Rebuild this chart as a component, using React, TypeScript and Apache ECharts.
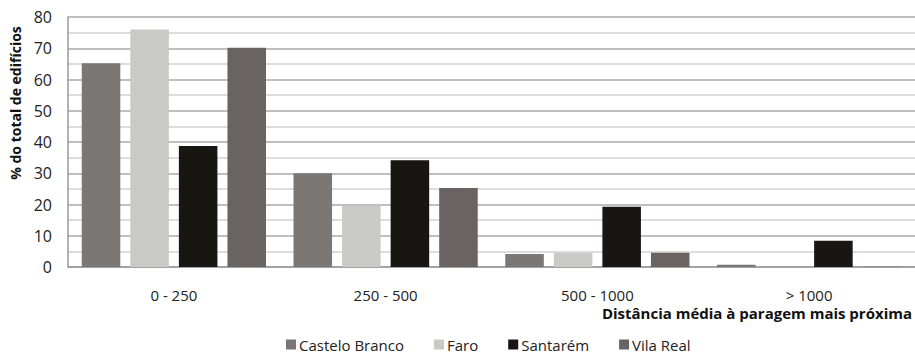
import React, { useEffect, useRef } from "react";
import * as echarts from "echarts";

const categories = ["0 - 250", "250 - 500", "500 - 1000", "> 1000"];
const seriesNames = ["Castelo Branco", "Faro", "Santarém", "Vila Real"];
const castelo = [65.2, 30, 4.2, 0.7];
const faro = [76, 19.5, 4.6, 0];
const santarem = [38.7, 34.2, 19.3, 8.4];
const vilaReal = [70.2, 25.3, 4.6, 0.1];
const colors = ["#7b7775", "#c9c9c7", "#171612", "#696463"];
const yTicks = [0, 80, 10];

export default function App() {
  const ref = useRef<HTMLDivElement>(null);
  useEffect(() => {
    if (!ref.current) return;
    const chart = echarts.init(ref.current, null, { renderer: "svg" });
    const data = [castelo, faro, santarem, vilaReal];
    const font = "'Open Sans', 'Noto Sans', sans-serif";
    chart.setOption({
      animation: false,
      textStyle: { fontFamily: font },
      grid: { left: 68, right: 0, top: 17, bottom: 87 },
      legend: {
        data: seriesNames,
        top: 337,
        left: 286,
        padding: 0,
        itemWidth: 10,
        itemHeight: 10,
        itemGap: 30,
        icon: "rect",
        textStyle: { fontSize: 15, lineHeight: 15, color: "#222", fontFamily: font, padding: [0, 0, 0, -2] },
      },
      xAxis: {
        type: "category",
        data: categories,
        axisLine: { lineStyle: { color: "#999", width: 1.5 } },
        axisTick: { show: false },
        axisLabel: { fontSize: 15, color: "#222", margin: 20 },
      },
      yAxis: {
        type: "value",
        min: yTicks[0],
        max: yTicks[1],
        interval: yTicks[2],
        axisLine: { show: true, lineStyle: { color: "#999", width: 1.5 } },
        axisTick: { show: false },
        axisLabel: { fontSize: 16, color: "#222", margin: 16 },
        splitLine: { lineStyle: { color: "#aaa", width: 1.5 } },
        minorTick: { show: false, splitNumber: 2 },
        minorSplitLine: { show: true, lineStyle: { color: "#d2d2d2", width: 1.5 } },
      },
      graphic: [
        {
          type: "text",
          x: 15,
          y: 103,
          rotation: Math.PI / 2,
          style: {
            text: "% do total de edifícios",
            fontSize: 14,
            fontWeight: "bold",
            fill: "#111",
            fontFamily: font,
            align: "center",
            verticalAlign: "middle",
          },
        },
        {
          type: "text",
          x: 912,
          y: 313,
          style: {
            text: "Distância média à paragem mais próxima",
            fontSize: 15,
            fontWeight: "bold",
            fill: "#111",
            fontFamily: font,
            align: "right",
            verticalAlign: "middle",
          },
        },
      ],
      series: seriesNames.map((name, i) => ({
        name,
        type: "bar",
        data: data[i],
        barGap: "26%",
        barCategoryGap: "13%",
        itemStyle: { color: colors[i] },
      })),
    });
    return () => chart.dispose();
  }, []);
  return (
    <div
      ref={ref}
      style={{ position: "fixed", left: 0, top: 0, width: 915, height: 354, background: "#fff" }}
    />
  );
}
